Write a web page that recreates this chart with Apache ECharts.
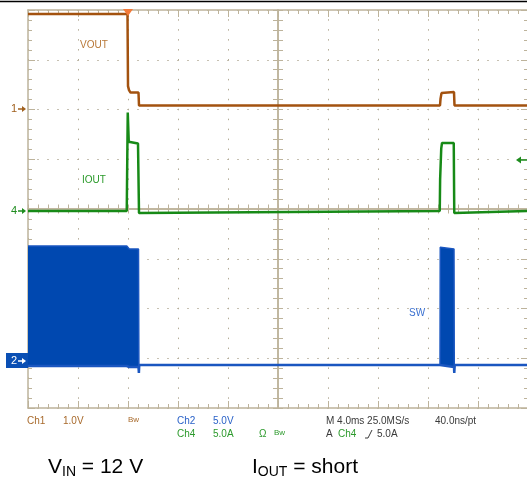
<!DOCTYPE html>
<html><head><meta charset="utf-8">
<script src="https://cdn.jsdelivr.net/npm/echarts@6/dist/echarts.min.js"></script>
<style>html,body{margin:0;padding:0;background:#fff}#c{width:527px;height:480px}</style>
</head><body><div id="c"></div>
<script>
// ---- data (time in ms, 4 ms/div) ----
const voutT = [0, 7.96, 8.0, 8.08, 8.2, 8.84, 8.88, 32.96, 33.0, 33.08, 33.2, 34.08, 34.12, 40];
const voutV = [1.91, 1.91, 0.46, 0.38, 0.33, 0.33, 0.07, 0.07, 0.2, 0.32, 0.34, 0.34, 0.07, 0.07];

const ioutT = [0, 7.9, 7.94, 7.98, 8.06, 8.12, 8.8, 8.88, 8.96, 32.94, 32.97, 33.06, 33.12, 34.06, 34.1, 34.16, 40];
const ioutA = [0, 0, 5.1, 9.9, 6.96, 6.85, 6.78, -0.2, 0, 0, 3.2, 6.3, 6.83, 6.83, -0.2, 0, 0];

const swT    = [0, 7.9, 8.1, 8.84, 8.87, 8.9, 32.96, 32.98, 33.1, 34.08, 34.1, 34.14, 40];
const swHigh = [11.66, 11.66, 11.36, 11.36, -0.3, -0.3, -0.3, 11.53, 11.36, 11.36, -0.3, -0.3, -0.3];
const swLow  = [-0.4, -0.4, -0.5, -0.5, -1.1, -0.3, -0.3, -0.5, -0.5, -0.5, -1.1, -0.3, -0.3];

const timeDivs = [0, 40, 4];      // min, max, interval (ms)
const vertDivs = [-4, 4, 1];      // divisions
const ch1Range = [-6.01, 1.99];   // V  (1.0 V/div)
const ch4Range = [-19.8, 20.2];   // A  (5.0 A/div)
const ch2Range = [-4.62, 35.38];  // V  (5.0 V/div)

const zip = (a, b) => a.map((v, i) => [v, b[i]]);

const border = '#bdb39b';
const dots = '#b5ad98';
const FONT = '"Liberation Sans", Arial, sans-serif';

function xFrame(pos, offset, inside, len, minorLen, split) {
  return {
    type: 'value', position: pos, offset: offset,
    min: timeDivs[0], max: timeDivs[1], interval: timeDivs[2],
    axisLine: {show: true, onZero: false, lineStyle: {color: border, width: 1.5}},
    axisTick: {show: true, inside: inside, length: len, lineStyle: {color: border, width: 1}},
    minorTick: {show: true, splitNumber: 5, length: minorLen, lineStyle: {color: border, width: 1}},
    axisLabel: {show: false},
    splitLine: {show: split, lineStyle: {color: dots, width: 1, type: [1.5, 8.45], dashOffset: 0.75}},
    minorSplitLine: {show: false}
  };
}
function yFrame(pos, offset, inside, len, minorLen, split) {
  return {
    type: 'value', position: pos, offset: offset,
    min: vertDivs[0], max: vertDivs[1], interval: vertDivs[2],
    axisLine: {show: true, onZero: false, lineStyle: {color: border, width: 1.5}},
    axisTick: {show: true, inside: inside, length: len, lineStyle: {color: border, width: 1}},
    minorTick: {show: true, splitNumber: 5, length: minorLen, lineStyle: {color: border, width: 1}},
    axisLabel: {show: false},
    splitLine: {show: split, lineStyle: {color: dots, width: 1, type: [1.5, 8.5], dashOffset: 0.75}},
    minorSplitLine: {show: false}
  };
}
function hidden(r) { return {type: 'value', show: false, min: r[0], max: r[1], splitLine: {show: false}}; }

function txt(x, y, text, fill, size, extra) {
  return Object.assign({type: 'text', x: x, y: y, z: 100,
    style: {text: text, fill: fill, font: (size || 10) + 'px ' + FONT, verticalAlign: 'middle'}}, extra || {});
}
function arrow(x, y, color) {
  return [
    {type: 'line', z: 100, shape: {x1: x, y1: y, x2: x + 5, y2: y}, style: {stroke: color, lineWidth: 1.5}},
    {type: 'polygon', z: 100, shape: {points: [[x + 4, y - 3], [x + 8, y], [x + 4, y + 3]]}, style: {fill: color}}
  ];
}

const brown = '#a86a2c', blue = '#2a62c8', green = '#2c9a2c', dark = '#3a3a3a';

const graphic = [
  {type: 'line', z: 100, shape: {x1: 0, y1: 1.5, x2: 527, y2: 1.5}, style: {stroke: '#000', lineWidth: 1.5}},
  {type: 'polygon', z: 100, shape: {points: [[123, 9], [133, 9], [128, 16]]}, style: {fill: '#f27a3a'}},
  // channel ground markers
  txt(11, 109, '1', '#a0601e', 11),
  ...arrow(18, 109, '#a0601e'),
  txt(11, 211, '4', '#1e8c1e', 11),
  ...arrow(18, 211, '#1e8c1e'),
  {type: 'rect', z: 99, shape: {x: 6, y: 353, width: 22, height: 15}, style: {fill: '#0a4fb4'}},
  txt(11, 361, '2', '#ffffff', 11),
  ...arrow(18, 361, '#ffffff'),
  // trigger level marker
  {type: 'polygon', z: 100, shape: {points: [[516, 160], [521, 156.5], [521, 163.5]]}, style: {fill: '#1e8c1e'}},
  {type: 'line', z: 100, shape: {x1: 520, y1: 160, x2: 527, y2: 160}, style: {stroke: '#1e8c1e', lineWidth: 1.5}},
  // trace labels
  txt(80, 45, 'VOUT', '#b87838', 10),
  txt(82, 180, 'IOUT', '#2a9a2a', 10),
  txt(409, 313, 'SW', '#3a70d0', 10),
  // status lines
  txt(27, 421, 'Ch1', brown), txt(63, 421, '1.0V', brown), txt(128, 420, 'Bw', brown, 8),
  txt(177, 421, 'Ch2', blue), txt(213, 421, '5.0V', blue),
  txt(177, 434, 'Ch4', green), txt(213, 434, '5.0A', green), txt(259, 434, 'Ω', green), txt(274, 433, 'Bw', green, 8),
  txt(326, 421, 'M 4.0ms 25.0MS/s', dark), txt(435, 421, '40.0ns/pt', dark),
  txt(326, 434, 'A', dark), txt(338, 434, 'Ch4', green), txt(377, 434, '5.0A', dark),
  {type: 'polyline', z: 100, shape: {points: [[365, 438], [368, 438], [372, 430]]}, style: {stroke: dark, lineWidth: 1, fill: null}},
  // bottom captions
  {type: 'text', x: 48, y: 455, z: 100, style: {text: '{a|V}{b|IN}{a| = 12 V}',
    rich: {a: {font: '21px ' + FONT, lineHeight: 24, fill: '#000'},
           b: {font: '14px ' + FONT, lineHeight: 14, verticalAlign: 'bottom', fill: '#000'}}}},
  {type: 'text', x: 252, y: 455, z: 100, style: {text: '{a|I}{b|OUT}{a| = short}',
    rich: {a: {font: '21px ' + FONT, lineHeight: 24, fill: '#000'},
           b: {font: '14px ' + FONT, lineHeight: 14, verticalAlign: 'bottom', fill: '#000'}}}}
];

const chart = echarts.init(document.getElementById('c'), null, {renderer: 'canvas'});
chart.setOption({
  animation: false,
  backgroundColor: '#ffffff',
  grid: {left: 28, top: 10, width: 500, height: 398, containLabel: false, outerBoundsMode: 'none'},
  xAxis: [
    xFrame('bottom', 0, true, 7, 4, true),
    xFrame('top', 0, true, 7, 4, false),
    xFrame('bottom', -199, true, 4.5, 4.5, false),
    xFrame('bottom', -199, false, 4.5, 4.5, false)
  ],
  yAxis: [
    yFrame('left', 0, true, 7, 4, true),
    yFrame('right', 0, true, 7, 4, false),
    yFrame('left', -250, true, 5, 5, false),
    yFrame('left', -250, false, 5, 5, false),
    hidden(ch1Range),
    hidden(ch4Range),
    hidden(ch2Range)
  ],
  series: [
    {type: 'line', name: 'SW', xAxisIndex: 0, yAxisIndex: 6, data: zip(swT, swHigh), symbol: 'none',
     lineStyle: {color: '#1a56c0', width: 1.5}, areaStyle: {color: '#0048b0', opacity: 1, origin: -0.4}, z: 3},
    {type: 'line', name: 'SWlow', xAxisIndex: 0, yAxisIndex: 6, data: zip(swT, swLow), symbol: 'none',
     lineStyle: {color: '#1a56c0', width: 2.5}, z: 3},
    {type: 'line', name: 'IOUT', xAxisIndex: 0, yAxisIndex: 5, data: zip(ioutT, ioutA), symbol: 'none',
     lineStyle: {color: '#178a17', width: 2.5}, z: 4},
    {type: 'line', name: 'VOUT', xAxisIndex: 0, yAxisIndex: 4, data: zip(voutT, voutV), symbol: 'none',
     lineStyle: {color: '#a3520f', width: 2.5}, z: 5}
  ],
  graphic: graphic
});
</script>
</body></html>
